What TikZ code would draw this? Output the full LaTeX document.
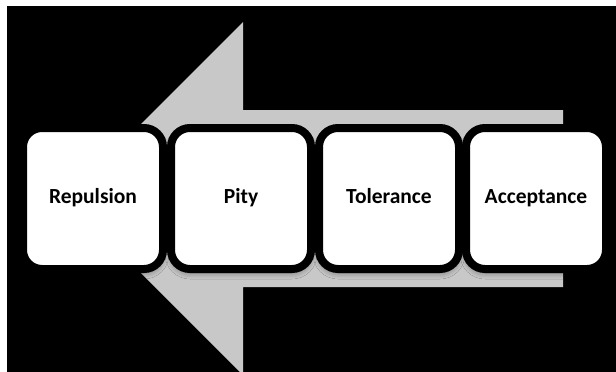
\documentclass[tikz,border=0pt]{standalone}
\usepackage{fontspec}
\setmainfont{Carlito}
\usetikzlibrary{shadows.blur}
\definecolor{arrowgrey}{HTML}{C8C8C8}
\tikzset{
  stage/.style={draw=black, fill=white, line width=8pt, rounded corners=19pt,
    minimum width=140pt, minimum height=141pt, inner sep=0pt,
    text height=14pt, text depth=4pt,
    font=\fontsize{21.5}{25}\selectfont\bfseries,
    blur shadow={shadow xshift=0pt, shadow yshift=-4pt, shadow blur radius=6pt, shadow opacity=45}},
}
\begin{document}
\begin{tikzpicture}[x=1pt, y=-1pt]
  \useasboundingbox (0,0) rectangle (616,372);
  \clip (0,0) rectangle (616,372);
  \fill[white] (0,0) rectangle (616,372);
  \fill[black] (7,6) rectangle (616,372);
  % big grey arrow pointing left
  \fill[arrowgrey] (66.5,198.5) -- (243,22) -- (243,110) -- (563,110)
    -- (563,287) -- (243,287) -- (243,375) -- cycle;
  % stages
  \node[stage] (repulsion)  at (93,198.5)  {Repulsion};
  \node[stage] (pity)       at (241,198.5) {Pity};
  \node[stage] (tolerance)  at (389,198.5) {Tolerance};
  \node[stage] (acceptance) at (536,198.5) {Acceptance};
\end{tikzpicture}
\end{document}
